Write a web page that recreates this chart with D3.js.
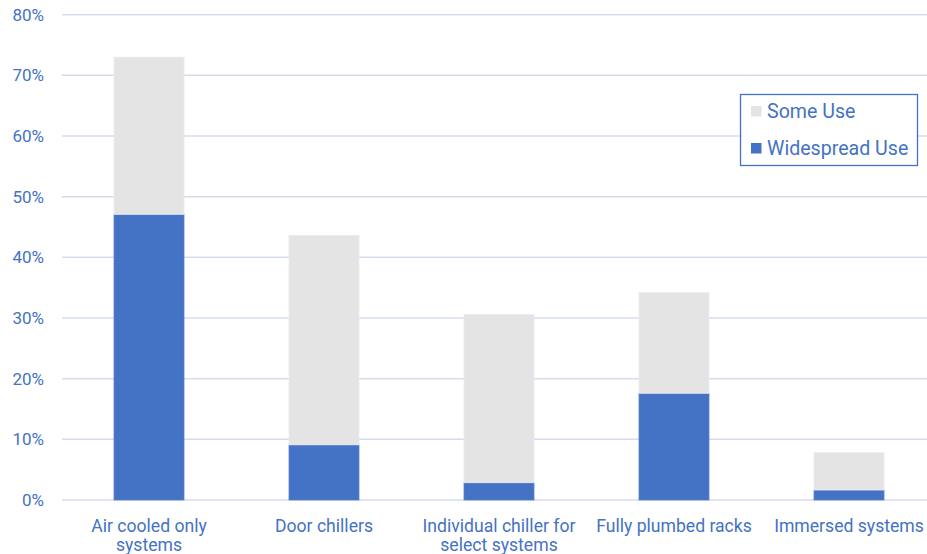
<!DOCTYPE html>
<html>
<head>
<meta charset="utf-8">
<script src="https://cdn.jsdelivr.net/npm/d3@7"></script>
<style>
  html, body { margin: 0; padding: 0; background: #fff; }
  svg { display: block; font-family: Roboto, "Noto Sans", sans-serif; }
</style>
</head>
<body>
<svg id="chart" width="927" height="554"></svg>
<script>
const categories = ["Air cooled only systems", "Door chillers", "Individual chiller for select systems", "Fully plumbed racks", "Immersed systems"];
const widespreadUse = [47.1, 9.1, 2.85, 17.6, 1.65];
const someUse = [25.9, 34.5, 27.75, 16.6, 6.15];
const seriesNames = ["Widespread Use", "Some Use"];
const yTicks = [0, 10, 20, 30, 40, 50, 60, 70, 80];

const blue = "#4472C4", grey = "#E4E4E4", grid = "#D4DCF0", textCol = "#4472C4";

const svg = d3.select("#chart");
const x = d3.scaleBand().domain(categories).range([61.5, 936.5]).paddingInner(0.6).paddingOuter(0.3);
const y = d3.scaleLinear().domain([0, 80]).range([500, 14.7]);

// gridlines
svg.append("g").selectAll("line").data(yTicks).join("line")
  .attr("x1", 62).attr("x2", 927)
  .attr("y1", d => y(d)).attr("y2", d => y(d))
  .attr("stroke", grid).attr("stroke-width", 1.5);

// y labels
svg.append("g").selectAll("text").data(yTicks).join("text")
  .attr("x", 44).attr("y", d => y(d)).attr("dy", "0.36em")
  .attr("text-anchor", "end").attr("fill", textCol).attr("font-size", 17)
  .text(d => d + "%");

// stacked bars
const rows = categories.map((c, i) => ({ cat: c, "Widespread Use": widespreadUse[i], "Some Use": someUse[i] }));
const stack = d3.stack().keys(seriesNames)(rows);
const colors = { "Widespread Use": blue, "Some Use": grey };
const strokes = { "Widespread Use": "#5A82CB", "Some Use": "#ECECEC" };
svg.append("g").selectAll("g").data(stack).join("g")
  .attr("fill", s => colors[s.key]).attr("stroke", s => strokes[s.key]).attr("stroke-width", 0.8)
  .selectAll("rect").data(s => s).join("rect")
  .attr("x", d => x(d.data.cat)).attr("width", x.bandwidth())
  .attr("y", d => y(d[1])).attr("height", d => y(d[0]) - y(d[1]));

// x labels with wrapping
const xl = svg.append("g").selectAll("text").data(categories).join("text")
  .attr("x", d => x(d) + x.bandwidth() / 2).attr("y", 531.5)
  .attr("text-anchor", "middle").attr("fill", textCol).attr("font-size", 17.6);
xl.each(function(d) {
  const t = d3.select(this);
  const words = d.split(" ");
  let line = [], lines = [];
  const probe = t.append("tspan");
  words.forEach(w => {
    const test = line.concat([w]).join(" ");
    probe.text(test);
    if (probe.node().getComputedTextLength() > 172 && line.length) {
      lines.push(line.join(" ")); line = [w];
    } else line.push(w);
  });
  lines.push(line.join(" "));
  probe.remove();
  lines.forEach((l, i) => t.append("tspan").attr("x", x(d) + x.bandwidth() / 2).attr("dy", i ? 19 : 0).text(l));
});

// legend
const lg = svg.append("g");
lg.append("rect").attr("x", 740.5).attr("y", 94.5).attr("width", 177).attr("height", 71)
  .attr("fill", "#fff").attr("stroke", blue).attr("stroke-width", 1.3);
const legendItems = ["Some Use", "Widespread Use"];
legendItems.forEach((k, i) => {
  const yy = 106 + i * 37;
  lg.append("rect").attr("x", 751).attr("y", yy).attr("width", 10.5).attr("height", 10.5).attr("fill", colors[k]);
  lg.append("text").attr("x", 767).attr("y", yy + 11.5).attr("fill", textCol).attr("font-size", 19.6).text(k);
});
</script>
</body>
</html>
